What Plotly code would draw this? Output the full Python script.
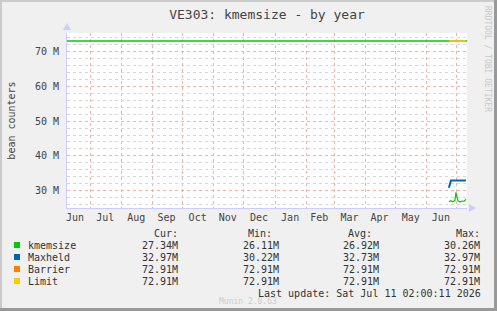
import plotly.graph_objects as go

# ---- data (values in millions) ----
month_labels = ["Jun", "Jul", "Aug", "Sep", "Oct", "Nov", "Dec", "Jan", "Feb", "Mar", "Apr", "May", "Jun"]
month_mid = ["2025-06-16", "2025-07-16", "2025-08-16", "2025-09-15", "2025-10-16", "2025-11-15",
             "2025-12-16", "2026-01-16", "2026-02-14", "2026-03-16", "2026-04-15", "2026-05-16", "2026-06-15"]

hist_dates = ["2025-06-08", "2026-07-11"]
hist_limit = [72.91, 72.91]

recent_dates = ["2026-06-23", "2026-06-25", "2026-06-27", "2026-06-29", "2026-06-30",
                "2026-07-02", "2026-07-04", "2026-07-06", "2026-07-08", "2026-07-10"]
kmemsize = [26.9, 27.2, 26.9, 27.3, 29.6, 27.2, 26.8, 27.1, 27.0, 27.6]
maxheld = [30.9, 32.97, 32.97, 32.97, 32.97, 32.97, 32.97, 32.97, 32.97, 32.97]
barrier = [72.91] * 10
limit = [72.91] * 10

y_ticks = [30, 40, 50, 60, 70]
y_labels = ["30 M", "40 M", "50 M", "60 M", "70 M"]

legend_names = ["kmemsize", "Maxheld", "Barrier", "Limit"]
legend_colors = ["#00CC00", "#0066B3", "#FF8000", "#FFCC00"]
cur_vals = ["27.34M", "32.97M", "72.91M", "72.91M"]
min_vals = ["26.11M", "30.22M", "72.91M", "72.91M"]
avg_vals = ["26.92M", "32.73M", "72.91M", "72.91M"]
max_vals = ["30.26M", "32.97M", "72.91M", "72.91M"]

FONT = "DejaVu Sans Mono"
W, H = 497, 311
L, R, T, B = 67, 30, 33, 103
PW, PH = W - L - R, H - T - B

fig = go.Figure()
fig.add_trace(go.Scatter(x=hist_dates, y=hist_limit, mode="lines",
                         line=dict(color="#00CC00", width=1.5), hoverinfo="skip"))
fig.add_trace(go.Scatter(x=recent_dates, y=barrier, mode="lines",
                         line=dict(color="#FF8000", width=1.5)))
fig.add_trace(go.Scatter(x=recent_dates, y=limit, mode="lines",
                         line=dict(color="#FFCC00", width=1.5)))
fig.add_trace(go.Scatter(x=recent_dates, y=maxheld, mode="lines",
                         line=dict(color="#0066B3", width=2)))
fig.add_trace(go.Scatter(x=recent_dates, y=kmemsize, mode="lines",
                         line=dict(color="#00CC00", width=1.2)))

fig.update_layout(
    width=W, height=H,
    margin=dict(l=L, r=R, t=T, b=B, autoexpand=False),
    paper_bgcolor="#F0F0F0",
    plot_bgcolor="#FFFFFF",
    showlegend=False,
    font=dict(family=FONT, size=10, color="#333333"),
    title=dict(text="VE303: kmemsize - by year", x=0.5, xanchor="center", xref="paper",
               y=1 - 14 / H, yanchor="middle", font=dict(family=FONT, size=13, color="#444444")),
)

fig.update_xaxes(
    type="date", automargin=False,
    range=["2025-06-08", "2026-07-11"],
    tickmode="array", tickvals=month_mid, ticktext=month_labels,
    ticks="", showgrid=False, zeroline=False,
    showline=True, linecolor="#CCCCFF", linewidth=1,
    tickfont=dict(family=FONT, size=10, color="#444444"),
    minor=dict(dtick="M1", tick0="2025-07-01", showgrid=True,
               gridcolor="#F4B0B0", griddash="dot", gridwidth=1, ticks=""),
)
fig.update_yaxes(
    range=[25.1, 75.2], automargin=False,
    tickmode="array", tickvals=y_ticks, ticktext=y_labels,
    ticks="", showgrid=True, gridcolor="#F4B0B0", griddash="dot", gridwidth=1,
    zeroline=False, showline=True, linecolor="#CCCCFF", linewidth=1,
    ticklabelstandoff=5,
    tickfont=dict(family=FONT, size=10, color="#444444"),
    title=dict(text="bean counters", font=dict(family=FONT, size=10, color="#444444"), standoff=17),
    minor=dict(dtick=2, tick0=0, showgrid=True, gridcolor="#D8D8D8", griddash="dot", gridwidth=1, ticks=""),
)

def px(x):
    return (x - L) / PW

def py(y):
    return (H - B - y) / PH

anns = []
row_y = [245, 257, 269, 281]
anns.append(dict(x=px(180), y=py(233), text="Cur:", xanchor="right"))
anns.append(dict(x=px(246), y=py(233), text="Min:", xanchor="left"))
anns.append(dict(x=px(346), y=py(233), text="Avg:", xanchor="left"))
anns.append(dict(x=px(482), y=py(233), text="Max:", xanchor="right"))
for i, name in enumerate(legend_names):
    yy = py(row_y[i])
    anns.append(dict(x=px(26), y=yy, text=name, xanchor="left"))
    anns.append(dict(x=px(180), y=yy, text=cur_vals[i], xanchor="right"))
    anns.append(dict(x=px(281), y=yy, text=min_vals[i], xanchor="right"))
    anns.append(dict(x=px(381), y=yy, text=avg_vals[i], xanchor="right"))
    anns.append(dict(x=px(482), y=yy, text=max_vals[i], xanchor="right"))
anns.append(dict(x=px(483), y=py(293), text="Last update: Sat Jul 11 02:00:11 2026", xanchor="right"))
for a in anns:
    a.update(xref="paper", yref="paper", yanchor="middle", showarrow=False,
             font=dict(family=FONT, size=10, color="#333333"))
anns.append(dict(x=px(248), y=py(301), xref="paper", yref="paper", text="Munin 2.0.63",
                 showarrow=False, xanchor="center", yanchor="middle",
                 font=dict(family=FONT, size=8, color="#CCCCCC")))
anns.append(dict(x=px(488), y=py(4), xref="paper", yref="paper", text="RRDTOOL / TOBI OETIKER",
                 showarrow=False, xanchor="center", yanchor="top", textangle=90,
                 font=dict(family=FONT, size=8, color="#C8C8C8")))
fig.update_layout(annotations=anns)

shapes = []
for i, c in enumerate(legend_colors):
    yy = row_y[i]
    shapes.append(dict(type="rect", xref="paper", yref="paper",
                       x0=px(14), x1=px(20), y0=py(yy + 3), y1=py(yy - 3),
                       fillcolor=c, line=dict(width=0)))
# axis arrows
shapes.append(dict(type="path", xref="paper", yref="paper",
                   path=f"M {px(63)} {py(30)} L {px(71)} {py(30)} L {px(67)} {py(23)} Z",
                   fillcolor="#CCCCFF", line=dict(width=0)))
shapes.append(dict(type="path", xref="paper", yref="paper",
                   path=f"M {px(469)} {py(204)} L {px(469)} {py(212)} L {px(476)} {py(208)} Z",
                   fillcolor="#CCCCFF", line=dict(width=0)))
# frame borders
shapes.append(dict(type="rect", xref="paper", yref="paper", x0=px(0), x1=px(2), y0=py(H), y1=py(0),
                   fillcolor="#CBCBCB", line=dict(width=0)))
shapes.append(dict(type="rect", xref="paper", yref="paper", x0=px(0), x1=px(W), y0=py(2), y1=py(0),
                   fillcolor="#CBCBCB", line=dict(width=0)))
shapes.append(dict(type="rect", xref="paper", yref="paper", x0=px(494), x1=px(W), y0=py(H), y1=py(0),
                   fillcolor="#999999", line=dict(width=0)))
shapes.append(dict(type="rect", xref="paper", yref="paper", x0=px(0), x1=px(W), y0=py(H), y1=py(308),
                   fillcolor="#999999", line=dict(width=0)))
fig.update_layout(shapes=shapes)

fig.write_html("out.html")
